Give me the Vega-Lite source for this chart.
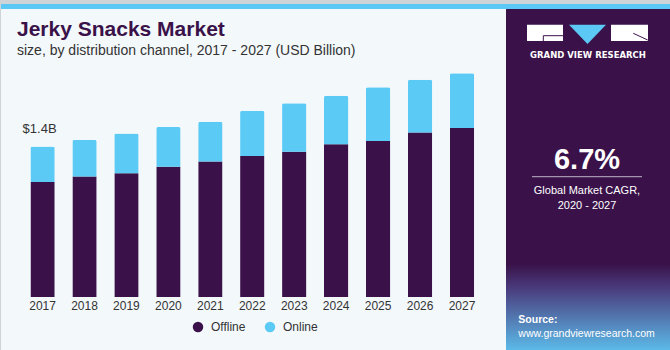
{
  "$schema": "https://vega.github.io/schema/vega-lite/v6.json",
  "background": "#cfd4d8",
  "padding": {"left": 1, "top": 0, "right": 0, "bottom": 3},
  "autosize": {"type": "pad"},
  "config": {"view": {"stroke": null}, "font": "Liberation Sans"},
  "spacing": 0,
  "bounds": "flush",
  "vconcat": [
    {
      "width": 669,
      "height": 5,
      "view": {"fill": "#5bc8f5", "stroke": null},
      "data": {"values": [{}]},
      "mark": {"type": "text", "text": ""},
      "encoding": {}
    },
    {
      "spacing": 0,
      "bounds": "flush",
      "hconcat": [
        {
          "width": 505,
          "height": 342,
          "view": {"fill": "#f3f8fb", "stroke": null},
          "title": {
            "text": "Jerky Snacks Market",
            "subtitle": "size, by distribution channel, 2017 - 2027 (USD Billion)",
            "anchor": "start",
            "frame": "group",
            "offset": -49,
            "dx": 16,
            "font": "Liberation Sans",
            "fontSize": 21,
            "fontWeight": "bold",
            "color": "#3a1249",
            "subtitleFont": "Liberation Sans",
            "subtitleFontSize": 14,
            "subtitleColor": "#333333",
            "subtitlePadding": 4
          },
          "layer": [
            {
              "data": {
                "values": [
                  {"year": "2017", "channel": "Offline", "value": 1.07},
                  {"year": "2017", "channel": "Online", "value": 0.33},
                  {"year": "2018", "channel": "Offline", "value": 1.12},
                  {"year": "2018", "channel": "Online", "value": 0.34},
                  {"year": "2019", "channel": "Offline", "value": 1.15},
                  {"year": "2019", "channel": "Online", "value": 0.37},
                  {"year": "2020", "channel": "Offline", "value": 1.21},
                  {"year": "2020", "channel": "Online", "value": 0.37},
                  {"year": "2021", "channel": "Offline", "value": 1.26},
                  {"year": "2021", "channel": "Online", "value": 0.37},
                  {"year": "2022", "channel": "Offline", "value": 1.31},
                  {"year": "2022", "channel": "Online", "value": 0.42},
                  {"year": "2023", "channel": "Offline", "value": 1.35},
                  {"year": "2023", "channel": "Online", "value": 0.45},
                  {"year": "2024", "channel": "Offline", "value": 1.42},
                  {"year": "2024", "channel": "Online", "value": 0.45},
                  {"year": "2025", "channel": "Offline", "value": 1.45},
                  {"year": "2025", "channel": "Online", "value": 0.5},
                  {"year": "2026", "channel": "Offline", "value": 1.53},
                  {"year": "2026", "channel": "Online", "value": 0.49},
                  {"year": "2027", "channel": "Offline", "value": 1.57},
                  {"year": "2027", "channel": "Online", "value": 0.51}
                ]
              },
              "mark": {"type": "bar", "cornerRadiusEnd": 2},
              "encoding": {
                "x": {
                  "field": "year",
                  "type": "ordinal",
                  "scale": {"paddingInner": 0.42, "paddingOuter": 0.73, "align": 0.48},
                  "axis": {
                    "title": null,
                    "ticks": false,
                    "domain": false,
                    "labelAngle": 0,
                    "labelFont": "Liberation Sans",
                    "labelFontSize": 12,
                    "labelColor": "#333333",
                    "labelPadding": 3,
                    "offset": -54
                  }
                },
                "y": {
                  "field": "value",
                  "type": "quantitative",
                  "stack": "zero",
                  "scale": {"domain": [-0.502, 2.677], "nice": false, "zero": false},
                  "axis": null
                },
                "order": {"field": "channel", "sort": "ascending"},
                "color": {
                  "field": "channel",
                  "type": "nominal",
                  "scale": {"domain": ["Offline", "Online"], "range": ["#3a1249", "#5bcbf6"]},
                  "legend": {
                    "title": null,
                    "orient": "none",
                    "legendX": 191,
                    "legendY": 317,
                    "direction": "horizontal",
                    "symbolType": "circle",
                    "symbolSize": 110,
                    "symbolStrokeWidth": 0,
                    "labelFont": "Liberation Sans",
                    "labelFontSize": 12,
                    "labelColor": "#333333",
                    "labelOffset": 7,
                    "columnPadding": 18
                  }
                }
              }
            },
            {
              "data": {"values": [{"year": "2017", "total": 1.4, "label": "$1.4B"}]},
              "mark": {"type": "text", "baseline": "alphabetic", "dy": -13, "dx": -3, "fontSize": 13, "color": "#333333", "font": "Liberation Sans"},
              "encoding": {
                "x": {"field": "year", "type": "ordinal"},
                "y": {"field": "total", "type": "quantitative", "scale": {"domain": [-0.502, 2.677], "nice": false, "zero": false}},
                "text": {"field": "label"}
              }
            }
          ]
        },
        {
          "width": 164,
          "height": 342,
          "view": {"fill": "#3a1249", "stroke": null},
          "data": {"values": [{}]},
          "layer": [
            {
              "mark": {
                "type": "rect",
                "color": {
                  "gradient": "linear", "x1": 0, "y1": 0, "x2": 0, "y2": 1,
                  "stops": [
                    {"offset": 0, "color": "#3a1249"},
                    {"offset": 0.27, "color": "#4a3a7c"},
                    {"offset": 1, "color": "#5cbcea"}
                  ]
                }
              },
              "encoding": {"x": {"value": 0}, "x2": {"value": 164}, "y": {"value": 255}, "y2": {"value": 342}}
            },
            {
              "mark": {"type": "rect", "color": "#ffffff"},
              "encoding": {"x": {"value": 21}, "x2": {"value": 57}, "y": {"value": 15.7}, "y2": {"value": 32}}
            },
            {
              "mark": {"type": "rect", "color": "#ffffff"},
              "encoding": {"x": {"value": 105}, "x2": {"value": 142}, "y": {"value": 15.7}, "y2": {"value": 32}}
            },
            {
              "mark": {"type": "rule", "color": "#3a1249", "strokeWidth": 1},
              "encoding": {"x": {"value": 37.3}, "x2": {"value": 57}, "y": {"value": 26.7}}
            },
            {
              "mark": {"type": "rule", "color": "#3a1249", "strokeWidth": 1},
              "encoding": {"x": {"value": 37.3}, "y": {"value": 26.7}, "y2": {"value": 32}}
            },
            {
              "mark": {"type": "rule", "color": "#3a1249", "strokeWidth": 1},
              "encoding": {"x": {"value": 127.3}, "x2": {"value": 141.7}, "y": {"value": 24.3}, "y2": {"value": 31}}
            },
            {
              "mark": {"type": "point", "shape": "M-1,-0.52L1,-0.52L0,0.52Z", "size": 1369, "filled": true, "opacity": 1, "color": "#5bc8f5"},
              "encoding": {"x": {"value": 81.5}, "y": {"value": 25.4}}
            },
            {
              "mark": {"type": "text", "text": "GRAND VIEW RESEARCH", "color": "#ffffff", "fontSize": 8.5, "fontWeight": "bold", "align": "center", "baseline": "middle", "font": "DejaVu Sans"},
              "encoding": {"x": {"value": 82}, "y": {"value": 46}}
            },
            {
              "mark": {"type": "text", "text": "6.7%", "color": "#ffffff", "fontSize": 29, "fontWeight": "bold", "align": "center", "baseline": "alphabetic", "font": "Liberation Sans"},
              "encoding": {"x": {"value": 81}, "y": {"value": 160}}
            },
            {
              "mark": {"type": "rule", "color": "#bdb3c8", "strokeWidth": 1},
              "encoding": {"x": {"value": 26}, "x2": {"value": 136}, "y": {"value": 167.7}}
            },
            {
              "mark": {"type": "text", "text": "Global Market CAGR,", "color": "#ffffff", "fontSize": 11, "align": "center", "baseline": "alphabetic", "font": "Liberation Sans"},
              "encoding": {"x": {"value": 81}, "y": {"value": 185}}
            },
            {
              "mark": {"type": "text", "text": "2020 - 2027", "color": "#ffffff", "fontSize": 11, "align": "center", "baseline": "alphabetic", "font": "Liberation Sans"},
              "encoding": {"x": {"value": 81}, "y": {"value": 199.5}}
            },
            {
              "mark": {"type": "text", "text": "Source:", "color": "#ffffff", "fontSize": 10.5, "fontWeight": "bold", "align": "left", "baseline": "alphabetic", "font": "Liberation Sans"},
              "encoding": {"x": {"value": 12.3}, "y": {"value": 314}}
            },
            {
              "mark": {"type": "text", "text": "www.grandviewresearch.com", "color": "#ffffff", "fontSize": 10.5, "align": "left", "baseline": "alphabetic", "font": "Liberation Sans"},
              "encoding": {"x": {"value": 12.3}, "y": {"value": 328}}
            }
          ]
        }
      ]
    }
  ]
}
